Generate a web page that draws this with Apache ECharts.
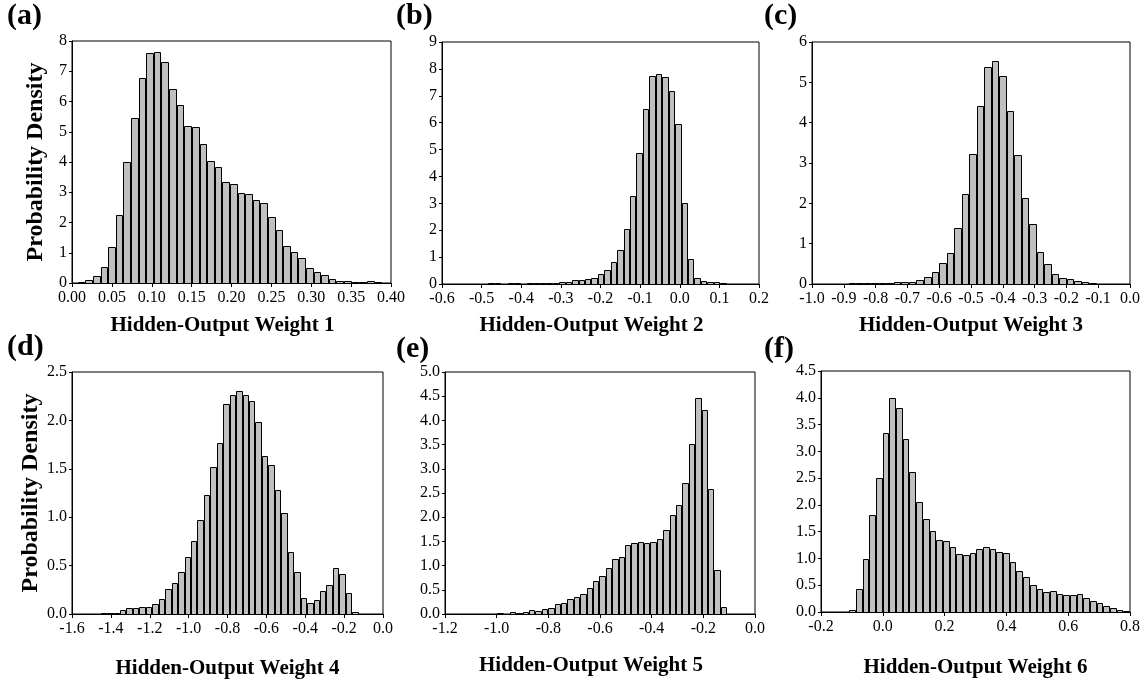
<!DOCTYPE html>
<html>
<head>
<meta charset="utf-8">
<script src="https://cdn.jsdelivr.net/npm/echarts@6/dist/echarts.min.js"></script>
<style>
  html, body { margin: 0; padding: 0; background: #fff; }
  #chart { width: 1143px; height: 683px; }
</style>
</head>
<body>
<div id="chart"></div>
<script>
// Histogram bin layout: first bin's left edge and bin width (data units)
const binsA = { start: 0.00726, width: 0.00954 };
const binsB = { start: -0.499, width: 0.01624 };
const binsC = { start: -0.884, width: 0.02362 };
const binsD = { start: -1.4528, width: 0.0332 };
const binsE = { start: -0.998, width: 0.02472 };
const binsF = { start: -0.1084, width: 0.02164 };

// Probability density per bin
const densityA = [0.03, 0.11, 0.22, 0.52, 1.19, 2.26, 4.00, 5.47, 6.77, 7.59, 7.62, 7.30, 6.41, 5.87,
  5.20, 5.15, 4.61, 4.03, 3.85, 3.33, 3.27, 2.96, 2.94, 2.76, 2.66, 2.17, 1.75, 1.21, 1.02, 0.83,
  0.48, 0.35, 0.25, 0.12, 0.08, 0.08, 0.03, 0.02, 0.05, 0.02];
const densityB = [0.01, 0.02, 0.02, 0.01, 0.02, 0.02, 0.01, 0.03, 0.05, 0.05, 0.05, 0.05, 0.06, 0.09,
  0.14, 0.14, 0.19, 0.21, 0.37, 0.52, 0.83, 1.27, 2.05, 3.28, 4.86, 6.51, 7.72, 7.80, 7.69, 7.16,
  5.94, 3.00, 0.93, 0.22, 0.12, 0.07, 0.06, 0.02];
const densityC = [0.02, 0.02, 0.02, 0.02, 0.02, 0.02, 0.06, 0.06, 0.06, 0.11, 0.17, 0.29, 0.51, 0.78,
  1.38, 2.23, 3.22, 4.42, 5.37, 5.54, 5.15, 4.30, 3.20, 2.14, 1.49, 0.80, 0.50, 0.24, 0.16, 0.12,
  0.07, 0.04, 0.03, 0.01, 0.01];
const densityD = [0.015, 0.015, 0.01, 0.045, 0.06, 0.06, 0.07, 0.07, 0.10, 0.16, 0.26, 0.32, 0.43,
  0.59, 0.75, 0.97, 1.23, 1.52, 1.77, 2.17, 2.26, 2.30, 2.26, 2.20, 1.98, 1.63, 1.54, 1.28, 1.04,
  0.64, 0.43, 0.17, 0.11, 0.14, 0.24, 0.30, 0.48, 0.41, 0.22, 0.02];
const densityE = [0.02, 0.01, 0.035, 0.02, 0.035, 0.09, 0.06, 0.11, 0.12, 0.20, 0.23, 0.31, 0.36,
  0.42, 0.54, 0.68, 0.78, 0.96, 1.13, 1.17, 1.43, 1.46, 1.49, 1.46, 1.49, 1.55, 1.74, 2.05, 2.25,
  2.70, 3.52, 4.46, 4.21, 2.59, 0.91, 0.15];
const densityF = [0.03, 0.43, 0.99, 1.82, 2.51, 3.35, 4.00, 3.80, 3.23, 2.61, 2.06, 1.74, 1.52, 1.34,
  1.32, 1.21, 1.09, 1.07, 1.10, 1.17, 1.22, 1.18, 1.12, 1.10, 0.93, 0.77, 0.65, 0.51, 0.43, 0.38,
  0.40, 0.34, 0.32, 0.32, 0.33, 0.26, 0.21, 0.16, 0.11, 0.07, 0.03, 0.01];

// Tick labels
const xTicksA = ['0.00', '0.05', '0.10', '0.15', '0.20', '0.25', '0.30', '0.35', '0.40'];
const xTicksB = ['-0.6', '-0.5', '-0.4', '-0.3', '-0.2', '-0.1', '0.0', '0.1', '0.2'];
const xTicksC = ['-1.0', '-0.9', '-0.8', '-0.7', '-0.6', '-0.5', '-0.4', '-0.3', '-0.2', '-0.1', '0.0'];
const xTicksD = ['-1.6', '-1.4', '-1.2', '-1.0', '-0.8', '-0.6', '-0.4', '-0.2', '0.0'];
const xTicksE = ['-1.2', '-1.0', '-0.8', '-0.6', '-0.4', '-0.2', '0.0'];
const xTicksF = ['-0.2', '0.0', '0.2', '0.4', '0.6', '0.8'];
const yTicksA = ['0', '1', '2', '3', '4', '5', '6', '7', '8'];
const yTicksB = ['0', '1', '2', '3', '4', '5', '6', '7', '8', '9'];
const yTicksC = ['0', '1', '2', '3', '4', '5', '6'];
const yTicksD = ['0.0', '0.5', '1.0', '1.5', '2.0', '2.5'];
const yTicksE = ['0.0', '0.5', '1.0', '1.5', '2.0', '2.5', '3.0', '3.5', '4.0', '4.5', '5.0'];
const yTicksF = ['0.0', '0.5', '1.0', '1.5', '2.0', '2.5', '3.0', '3.5', '4.0', '4.5'];

const panelLetters = ['(a)', '(b)', '(c)', '(d)', '(e)', '(f)'];
const xTitles = ['Hidden-Output Weight 1', 'Hidden-Output Weight 2', 'Hidden-Output Weight 3',
  'Hidden-Output Weight 4', 'Hidden-Output Weight 5', 'Hidden-Output Weight 6'];
const yTitle = 'Probability Density';

const FONT = '"Liberation Serif", "Times New Roman", serif';

// shiftL: how far the x-axis title sits left of the plot centre
const panels = [
  { bins: binsA, dens: densityA, xt: xTicksA, yt: yTicksA, grid: { left: 72, top: 41, width: 319, height: 242 }, nameGap: 32, shiftL: 9, letter: [7, 1], yName: true },
  { bins: binsB, dens: densityB, xt: xTicksB, yt: yTicksB, grid: { left: 442, top: 42, width: 317, height: 242 }, nameGap: 31, shiftL: 9, letter: [396, 1] },
  { bins: binsC, dens: densityC, xt: xTicksC, yt: yTicksC, grid: { left: 812, top: 42, width: 318, height: 242 }, nameGap: 31, shiftL: 0, letter: [764, 1] },
  { bins: binsD, dens: densityD, xt: xTicksD, yt: yTicksD, grid: { left: 72, top: 372, width: 311, height: 242 }, nameGap: 44, shiftL: 0, letter: [7, 332], yName: true },
  { bins: binsE, dens: densityE, xt: xTicksE, yt: yTicksE, grid: { left: 445, top: 372, width: 310, height: 242 }, nameGap: 41, shiftL: 9, letter: [396, 334] },
  { bins: binsF, dens: densityF, xt: xTicksF, yt: yTicksF, grid: { left: 821, top: 371, width: 309, height: 241 }, nameGap: 45, shiftL: 0, letter: [764, 334] }
];

// Each bin is outlined inside its own edges, so neighbouring bins share a two-pixel seam
function renderBin(params, api) {
  const top = api.coord([api.value(0), api.value(2)]);
  const base = api.coord([api.value(1), 0]);
  const xl = Math.round(top[0]);
  const xr = Math.round(base[0]);
  const yt = Math.round(top[1]);
  const yb = Math.round(base[1]);
  return {
    type: 'rect',
    shape: { x: xl + 0.5, y: yt + 0.5, width: Math.max(xr - xl - 1, 0), height: Math.max(yb - yt, 0) },
    style: { fill: '#c0c0c0', stroke: '#000', lineWidth: 1 }
  };
}

function axisFromTicks(ticks) {
  const min = parseFloat(ticks[0]);
  const max = parseFloat(ticks[ticks.length - 1]);
  const step = (max - min) / (ticks.length - 1);
  return {
    min, max, interval: step,
    formatter: v => ticks[Math.round((v - min) / step)]
  };
}

const grids = [], xAxes = [], yAxes = [], series = [], graphics = [];
panels.forEach((p, i) => {
  grids.push(Object.assign({ show: true, borderColor: '#000', borderWidth: 1, backgroundColor: 'transparent' }, p.grid));
  const xs = axisFromTicks(p.xt);
  const ys = axisFromTicks(p.yt);
  xAxes.push({
    type: 'value', gridIndex: i, min: xs.min, max: xs.max, interval: xs.interval,
    axisLine: { show: true, onZero: false, lineStyle: { color: '#000', width: 1 } },
    axisTick: { show: true, length: 4, lineStyle: { color: '#000' } },
    splitLine: { show: false },
    axisLabel: { color: '#000', fontFamily: FONT, fontSize: 16, margin: 7, formatter: xs.formatter, showMinLabel: true, showMaxLabel: true, hideOverlap: false },
    name: xTitles[i], nameLocation: 'middle', nameGap: p.nameGap,
    nameTextStyle: { color: '#000', fontFamily: FONT, fontSize: 21, fontWeight: 'bold', padding: [0, p.shiftL * 2, 0, 0] }
  });
  yAxes.push({
    type: 'value', gridIndex: i, min: ys.min, max: ys.max, interval: ys.interval,
    axisLine: { show: true, onZero: false, lineStyle: { color: '#000', width: 1 } },
    axisTick: { show: true, length: 3, lineStyle: { color: '#000' } },
    splitLine: { show: false },
    axisLabel: { color: '#000', fontFamily: FONT, fontSize: 16, margin: 5, formatter: ys.formatter, showMinLabel: true, showMaxLabel: true },
    name: p.yName ? yTitle : '', nameLocation: 'middle', nameGap: 24, nameRotate: 90,
    nameTextStyle: { color: '#000', fontFamily: FONT, fontSize: 24, fontWeight: 'bold' }
  });
  const data = p.dens.map((h, k) => [p.bins.start + k * p.bins.width, p.bins.start + (k + 1) * p.bins.width, h]);
  series.push({
    type: 'custom', xAxisIndex: i, yAxisIndex: i, renderItem: renderBin,
    encode: { x: [0, 1], y: 2 }, data, clip: true, silent: true
  });
  graphics.push({
    type: 'text', left: p.letter[0], top: p.letter[1],
    style: { text: panelLetters[i], fill: '#000', font: 'bold 30px ' + FONT }
  });
});

const chart = echarts.init(document.getElementById('chart'), null, { renderer: 'canvas' });
chart.setOption({
  animation: false,
  backgroundColor: '#fff',
  grid: grids,
  xAxis: xAxes,
  yAxis: yAxes,
  series,
  graphic: graphics
});
</script>
</body>
</html>
